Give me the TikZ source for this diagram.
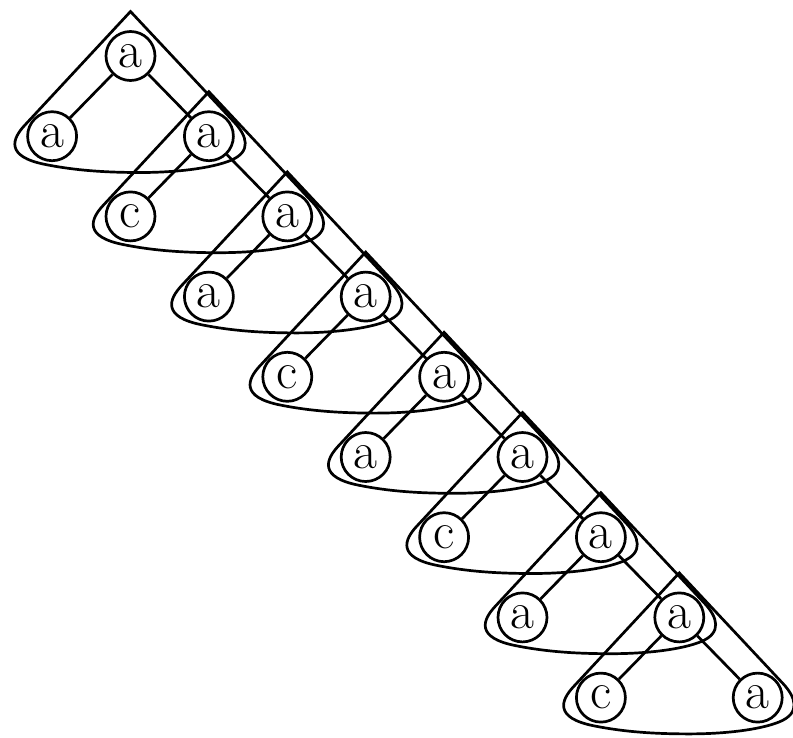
\documentclass[tikz,border=0pt]{standalone}
\usetikzlibrary{backgrounds}
\begin{document}
\begin{tikzpicture}[x=1pt,y=-1pt,
  lbl/.style={circle,draw,line width=2.7pt,minimum size=49pt,inner sep=0pt,fill=white,font=\fontsize{52}{52}\selectfont},
  tri/.style={line width=2.7pt},
  edge/.style={line width=2.7pt}]
\useasboundingbox (0,0) rectangle (793,737);
% chain nodes
\foreach \i in {0,...,8}
  \node[lbl] (n\i) at ({130.5+78.4*\i},{56+80.2*\i}) {a};
% left children
\foreach \i/\l in {0/a,1/c,2/a,3/c,4/a,5/c,6/a,7/c}
  \node[lbl] (l\i) at ({52.1+78.4*\i},{136.2+80.2*\i}) {\l};
\begin{pgfonlayer}{background}
\foreach \i in {0,...,7} {
  \coordinate (p\i) at ({130.5+78.4*\i},{11.5+80.2*\i});
  \draw[tri,shift={(p\i)}] (0,0) -- (-106,114)
    .. controls (-118,127) and (-126,145) .. (-85,153)
    .. controls (-55,159) and (-25,161) .. (10,161)
    .. controls (45,161) and (80,157) .. (100,149)
    .. controls (122,140) and (116,124) .. (104,111) -- cycle;
}
\foreach \i [evaluate=\i as \j using int(\i+1)] in {0,...,7} {
  \draw[edge] (n\i) -- (l\i);
  \draw[edge] (n\i) -- (n\j);
}
\end{pgfonlayer}
\end{tikzpicture}
\end{document}
